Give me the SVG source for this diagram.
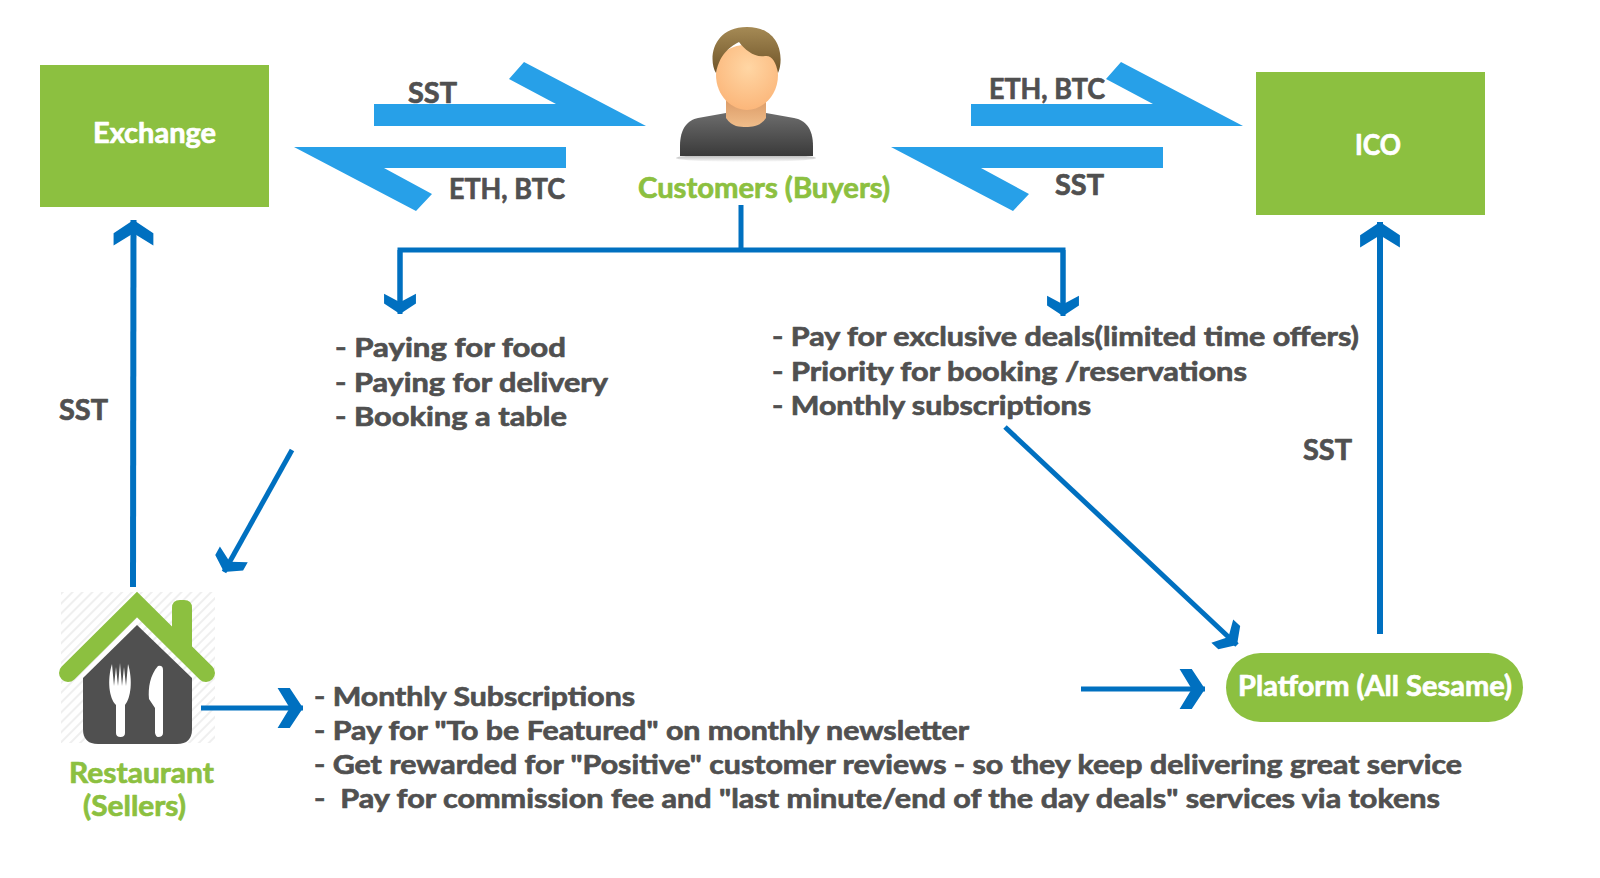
<svg xmlns="http://www.w3.org/2000/svg" width="1600" height="878" viewBox="0 0 1600 878">
<style>
text{font-family:"Lato","Noto Sans","Liberation Sans",sans-serif;font-weight:700;white-space:pre;stroke-width:.7px;stroke-linejoin:round}
.d{fill:#505050;stroke:#505050;font-size:28px}
.l{fill:#505050;stroke:#505050;font-size:27px}
.g{fill:#8cc040;stroke:#8cc040;font-size:29px}
.w{fill:#fff;stroke:#fff;font-size:28px}
.box{fill:#8cc040}
.big{fill:#27a0e8}
.c{fill:none;stroke:#0070c0;stroke-width:5}
.c6{fill:none;stroke:#0070c0;stroke-width:6}
</style>
<defs>
<marker id="hs" markerUnits="userSpaceOnUse" markerWidth="24" markerHeight="34" viewBox="-20 -16 21 32" refX="0" refY="0" orient="auto"><polygon points="-19,-15 -10,-15 0,0 -10,15 -19,15 -11,0" fill="#0070c0"/></marker>
<marker id="hl" markerUnits="userSpaceOnUse" markerWidth="28" markerHeight="42" viewBox="-24 -19 25 38" refX="0" refY="0" orient="auto"><polygon points="-23,-18 -12,-18 0,0 -12,18 -23,18 -12,0" fill="#0070c0"/></marker>
<pattern id="hatch" width="7" height="7" patternUnits="userSpaceOnUse" patternTransform="rotate(-45)"><rect width="7" height="7" fill="#fff"/><rect width="7" height="2" fill="#efefef"/></pattern>
<linearGradient id="hair" x1="0" y1="0" x2="0" y2="1"><stop offset="0" stop-color="#a58a55"/><stop offset="1" stop-color="#6f5428"/></linearGradient>
<radialGradient id="face" cx="0.52" cy="0.35" r="0.7"><stop offset="0" stop-color="#ffd6a4"/><stop offset="1" stop-color="#fbb477"/></radialGradient>
<linearGradient id="neck" x1="0" y1="0" x2="0" y2="1"><stop offset="0" stop-color="#dc9c68"/><stop offset="1" stop-color="#f0bd8a"/></linearGradient>
<linearGradient id="shirt" x1="0" y1="0" x2="0" y2="1"><stop offset="0" stop-color="#6c6c6c"/><stop offset="1" stop-color="#3a3a3a"/></linearGradient>
<linearGradient id="shadow" x1="0" y1="0" x2="0" y2="1"><stop offset="0" stop-color="#aaa"/><stop offset="1" stop-color="#fff"/></linearGradient>
</defs>
<rect width="1600" height="878" fill="#fff"/>

<g id="exchange"><rect class="box" x="40" y="65" width="229" height="142"/><text class="w" x="93" y="143" textLength="123" lengthAdjust="spacingAndGlyphs">Exchange</text></g>
<g id="ico"><rect class="box" x="1256" y="72" width="229" height="143"/><text class="w" x="1355" y="155" textLength="46" lengthAdjust="spacingAndGlyphs">ICO</text></g>

<g id="customers">
<ellipse cx="746" cy="158" rx="70" ry="4" fill="url(#shadow)"/>
<path d="M680,156V146C680,128 688,120 698,118L726,113H766L794,118C805,120 813,128 813,146V156Z" fill="url(#shirt)"/>
<path d="M726,100H766V118C760,127 752,127 746,127C740,127 732,127 726,118Z" fill="url(#neck)"/>
<path d="M716,75C716,55 728,45 746,45C764,45 778,55 778,75C778,96 762,110 747,110C732,110 716,96 716,75Z" fill="url(#face)"/>
<path d="M716,73C708,60 712,27 747,27C782,27 784,60 778,73C776,62 772,55 765,56C755,58 745,50 739,42C732,46 720,52 716,73Z" fill="url(#hair)"/>
<text class="g" x="638" y="198" textLength="252" lengthAdjust="spacingAndGlyphs">Customers (Buyers)</text>
</g>

<g id="restaurant">
<rect x="61" y="592" width="154" height="151" fill="url(#hatch)"/>
<path d="M137,625L192,678V729Q192,744 177,744H98Q83,744 83,729V678Z" fill="#505050"/>
<path d="M172,650V608Q172,600 180,600H184Q192,600 192,608V670Z" fill="#8cc040"/>
<polyline points="68,673 137,604.500 206,673" fill="none" stroke="#8cc040" stroke-width="18" stroke-linecap="round"/>
<path d="M112,664L114,686L116,667L118,686L120,663L122,686L124,667L126,686L128,664C133,680 131,698 125,705V733Q125,737 120.500,737Q116,737 116,733V705C109,698 107,680 112,664Z" fill="#fff"/>
<path d="M158,666Q163,665 163,670V733Q163,737 158,737Q156,737 155,733V708L149,699C148,688 150,675 158,666Z" fill="#fff"/>
<text class="g" x="69" y="783" textLength="145" lengthAdjust="spacingAndGlyphs">Restaurant</text>
<text class="g" x="83" y="816" textLength="103" lengthAdjust="spacingAndGlyphs">(Sellers)</text>
</g>

<g id="platform"><rect class="box" x="1226" y="653" width="297" height="69" rx="34.500"/><text class="w" x="1238" y="696" textLength="274" lengthAdjust="spacingAndGlyphs">Platform (All Sesame)</text></g>

<g id="connectors">
<polygon class="big" points="374,104 556,104 509,79 524,62 646,126 374,126"/>
<polygon class="big" points="566,147 294,147 416,211 432,194 384,168 566,168"/>
<polygon class="big" points="971,104 1153,104 1106,79 1121,62 1243,126 971,126"/>
<polygon class="big" points="1163,147 891,147 1013,211 1029,194 981,168 1163,168"/>
<path class="c" d="M741,205V250M400,304V250H1063V304"/>
<line class="c" x1="400" y1="250" x2="400" y2="314" marker-end="url(#hs)"/>
<line class="c" x1="1063" y1="250" x2="1063" y2="316" marker-end="url(#hs)"/>
<line class="c6" x1="133" y1="587" x2="133.500" y2="220" marker-end="url(#hl)"/>
<line class="c6" x1="1380" y1="634" x2="1380" y2="222" marker-end="url(#hl)"/>
<line class="c" x1="292" y1="450" x2="224" y2="572" marker-end="url(#hs)"/>
<line class="c" x1="1005" y1="427" x2="1237" y2="645" marker-end="url(#hs)"/>
<line class="c" x1="201" y1="708" x2="303" y2="708" marker-end="url(#hl)"/>
<line class="c" x1="1081" y1="689" x2="1205" y2="689" marker-end="url(#hl)"/>
</g>

<g id="labels">
<text class="d" x="408" y="103" textLength="49" lengthAdjust="spacingAndGlyphs">SST</text>
<text class="d" x="449" y="199" textLength="116" lengthAdjust="spacingAndGlyphs">ETH, BTC</text>
<text class="d" x="989" y="99" textLength="116" lengthAdjust="spacingAndGlyphs">ETH, BTC</text>
<text class="d" x="1055" y="195" textLength="49" lengthAdjust="spacingAndGlyphs">SST</text>
<text class="d" x="59" y="420" textLength="49" lengthAdjust="spacingAndGlyphs">SST</text>
<text class="d" x="1303" y="460" textLength="49" lengthAdjust="spacingAndGlyphs">SST</text>
</g>
<g id="list-food">
<text class="l" x="335" y="357" textLength="231" lengthAdjust="spacingAndGlyphs">- Paying for food</text>
<text class="l" x="335" y="392" textLength="273" lengthAdjust="spacingAndGlyphs">- Paying for delivery</text>
<text class="l" x="335" y="426" textLength="232" lengthAdjust="spacingAndGlyphs">- Booking a table</text>
</g>
<g id="list-deals">
<text class="l" x="772" y="346" textLength="587" lengthAdjust="spacingAndGlyphs">- Pay for exclusive deals(limited time offers)</text>
<text class="l" x="772" y="381" textLength="475" lengthAdjust="spacingAndGlyphs">- Priority for booking /reservations</text>
<text class="l" x="772" y="415" textLength="319" lengthAdjust="spacingAndGlyphs">- Monthly subscriptions</text>
</g>
<g id="list-sellers">
<text class="l" x="314" y="706" textLength="321" lengthAdjust="spacingAndGlyphs">- Monthly Subscriptions</text>
<text class="l" x="314" y="740" textLength="655" lengthAdjust="spacingAndGlyphs">- Pay for "To be Featured" on monthly newsletter</text>
<text class="l" x="314" y="774" textLength="1148" lengthAdjust="spacingAndGlyphs">- Get rewarded for "Positive" customer reviews - so they keep delivering great service</text>
<text class="l" x="314" y="808" textLength="1126" lengthAdjust="spacingAndGlyphs">-  Pay for commission fee and "last minute/end of the day deals" services via tokens</text>
</g>
</svg>
